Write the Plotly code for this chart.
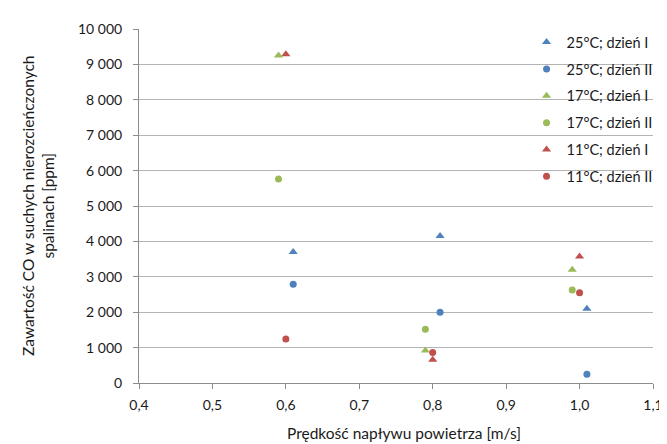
import plotly.graph_objects as go

# Data
x_25_I = [0.61, 0.81, 1.01]
y_25_I = [3700, 4150, 2100]
x_25_II = [0.61, 0.81, 1.01]
y_25_II = [2790, 2000, 250]
x_17_I = [0.59, 0.79, 0.99]
y_17_I = [9250, 915, 3200]
x_17_II = [0.59, 0.79, 0.99]
y_17_II = [5760, 1520, 2630]
x_11_I = [0.60, 0.80, 1.00]
y_11_I = [9290, 660, 3570]
x_11_II = [0.60, 0.80, 1.00]
y_11_II = [1240, 860, 2550]

names = ["25°C; dzień I", "25°C; dzień II", "17°C; dzień I",
         "17°C; dzień II", "11°C; dzień I", "11°C; dzień II"]

BLUE = "#4F81BD"
GREEN = "#9BBB59"
RED = "#C0504D"

series = [
    (x_25_I, y_25_I, names[0], BLUE, "triangle-up"),
    (x_25_II, y_25_II, names[1], BLUE, "circle"),
    (x_17_I, y_17_I, names[2], GREEN, "triangle-up"),
    (x_17_II, y_17_II, names[3], GREEN, "circle"),
    (x_11_I, y_11_I, names[4], RED, "triangle-up"),
    (x_11_II, y_11_II, names[5], RED, "circle"),
]

FONT = "Lato, 'Open Sans', sans-serif"
TXT = "#1a1a1a"

fig = go.Figure()
for i, (xs, ys, nm, col, sym) in enumerate(series):
    fig.add_trace(go.Scatter(
        x=xs, y=ys, name=nm, mode="markers", legendgroup=str(i),
        marker=dict(color=col, symbol=sym, size=8 if sym != "circle" else 7,
                    line=dict(width=0)),
    ))

fig.update_layout(
    width=667, height=444,
    margin=dict(l=131, r=12, t=21, b=69),
    paper_bgcolor="white", plot_bgcolor="white",
    separators=", ",
    font=dict(family=FONT, size=14, color=TXT),
    showlegend=True,
    legend=dict(
        x=0.754, xanchor="left", y=1.008, yanchor="top",
        bgcolor="rgba(0,0,0,0)", borderwidth=0,
        font=dict(family=FONT, size=14.5, color=TXT),
        tracegroupgap=5, itemwidth=30,
    ),
    xaxis=dict(
        range=[0.4, 1.1], tickvals=[0.4, 0.5, 0.6, 0.7, 0.8, 0.9, 1.0, 1.1],
        tickformat=".1f", showgrid=False, zeroline=False,
        showline=True, linecolor="#8c8c8c", linewidth=1,
        ticks="outside", ticklen=5, tickcolor="#8c8c8c",
        ticklabelstandoff=4,
        tickfont=dict(family=FONT, size=14, color=TXT),
    ),
    yaxis=dict(
        range=[0, 10000], dtick=1000, tickformat=",d",
        showgrid=True, gridcolor="#b4b4b4", gridwidth=1, zeroline=False,
        showline=True, linecolor="#8c8c8c", linewidth=1,
        ticks="outside", ticklen=5, tickcolor="#8c8c8c",
        ticklabelstandoff=8,
        tickfont=dict(family=FONT, size=14, color=TXT),
    ),
    annotations=[
        dict(text="Zawartość CO w suchych nierozcieńczonych<br>spalinach [ppm]",
             xref="paper", yref="paper", x=-0.1966, y=0.5,
             xanchor="center", yanchor="middle", textangle=-90,
             showarrow=False, font=dict(family=FONT, size=15.5, color=TXT)),
        dict(text="Prędkość napływu powietrza [m/s]",
             xref="paper", yref="paper", x=0.515, y=-0.141,
             xanchor="center", yanchor="middle",
             showarrow=False, font=dict(family=FONT, size=15.5, color=TXT)),
    ],
)

fig.write_html("out.html")
